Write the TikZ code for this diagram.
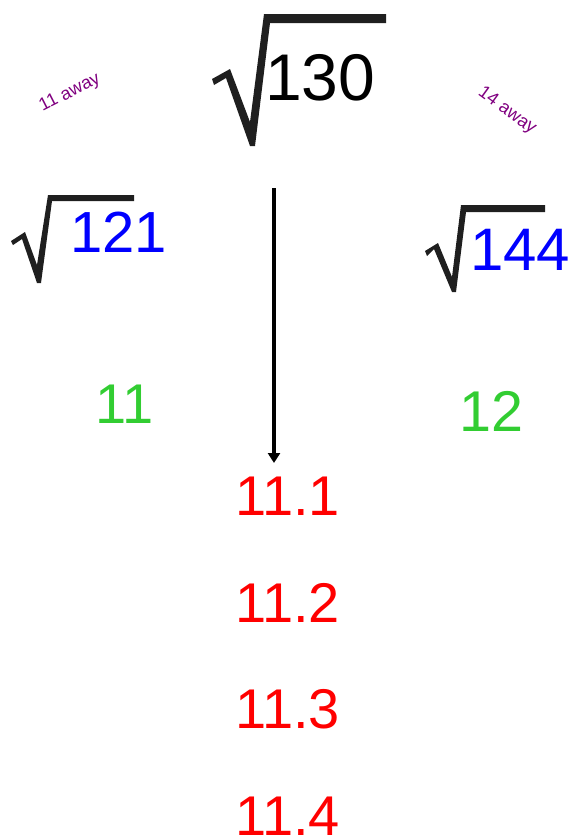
\documentclass[tikz,border=0pt]{standalone}
\usepackage{fontspec}
\setmainfont{Liberation Sans}
\usetikzlibrary{arrows.meta}
\definecolor{rblue}{RGB}{0,0,255}
\definecolor{rgreen}{RGB}{50,205,50}
\definecolor{rred}{RGB}{255,0,0}
\definecolor{rpurple}{RGB}{128,0,128}
\tikzset{
  num/.style={inner sep=0pt, anchor=base west},
  radical/.style={fill=black!88, draw=none},
  note/.style={inner sep=0pt, text=rpurple, font=\fontsize{18}{21}\selectfont},
}
\begin{document}
\begin{tikzpicture}[x=1pt,y=-1pt]
\useasboundingbox (0,0) rectangle (570,839);
% radical 130
\fill[radical] (212,79) -- (230,69) -- (250,122) -- (264,14) -- (386,14) -- (386,23)
  -- (270,23) -- (255,146) -- (250,146) -- (226,78) -- (214,85) -- cycle;
\node[num, font=\fontsize{66}{80}\selectfont] (r130) at (265,100) {130};
% radical 121
\fill[radical] (11,241) -- (25,232) -- (37,265) -- (48,195) -- (134,195) -- (134,201)
  -- (52,201) -- (41,283) -- (37,283) -- (22,239) -- (13,245) -- cycle;
\node[num, font=\fontsize{58}{70}\selectfont, text=rblue] (r121) at (70,252) {121};
% radical 144
\fill[radical] (425,251) -- (438,243) -- (452,277) -- (461,205) -- (545,205) -- (545,212)
  -- (466,212) -- (456,292) -- (452,292) -- (434,249) -- (427,256) -- cycle;
\node[num, font=\fontsize{60}{72}\selectfont, text=rblue] (r144) at (470,270) {144};
% notes
\node[note, rotate=27] (n11) at (70,93) {11 away};
\node[note, rotate=-36] (n14) at (507,111) {14 away};
% green
\node[num, font=\fontsize{56}{67}\selectfont, text=rgreen] (g11) at (95,423) {11};
\node[num, font=\fontsize{57.5}{69}\selectfont, text=rgreen] (g12) at (459,431) {12};
% red
\node[num, font=\fontsize{56}{67}\selectfont, text=rred] (d1) at (235,515) {11.1};
\node[num, font=\fontsize{56}{67}\selectfont, text=rred] (d2) at (235,622) {11.2};
\node[num, font=\fontsize{56}{67}\selectfont, text=rred] (d3) at (235,728) {11.3};
\node[num, font=\fontsize{56}{67}\selectfont, text=rred] (d4) at (235,835) {11.4};
% arrow
\coordinate (astart) at (274,188);
\coordinate (aend) at (274,463);
\draw[line width=4pt, -{Triangle[width=12pt,length=10pt]}] (astart) -- (aend);
\end{tikzpicture}
\end{document}
